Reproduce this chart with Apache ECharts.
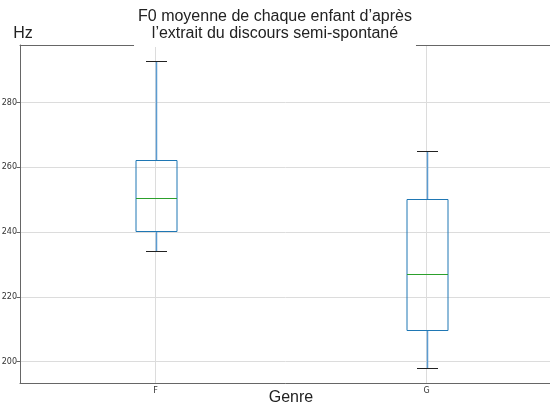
<!DOCTYPE html>
<html>
<head>
<meta charset="utf-8">
<script src="https://cdn.jsdelivr.net/npm/echarts@6/dist/echarts.min.js"></script>
<style>
  html, body { margin: 0; padding: 0; background: #fff; }
  #chart { width: 550px; height: 409px; }
</style>
</head>
<body>
<div id="chart"></div>
<script>
// Mean F0 per child, grouped by gender (five-number summaries)
const genres = ['F', 'G'];
const whiskerLow = [234.3, 198.1];
const q1 = [240.4, 209.9];
const median = [250.6, 227.2];
const q3 = [262.3, 250.2];
const whiskerHigh = [292.8, 265.1];

const boxData = genres.map((g, i) => [i, whiskerLow[i], q1[i], median[i], q3[i], whiskerHigh[i]]);

const BOX = '#1f77b4';
const WHISKER = '#5b9bd0';
const MED = '#2ca02c';
const CAP = '#222222';
const GRID = '#dcdcdc';
const AXIS = '#666666';

// crisp 1px lines: snap to pixel centres
const snap = v => Math.round(v) + 0.5;

function renderBox(params, api) {
  const idx = api.value(0);
  const band = api.size([1, 0])[0];
  const bw = Math.round(band * 0.15);
  const cw = Math.round(bw / 2);
  const yLo = snap(api.coord([idx, api.value(1)])[1]);
  const yQ1 = snap(api.coord([idx, api.value(2)])[1]);
  const pMed = api.coord([idx, api.value(3)]);
  const yMed = snap(pMed[1]);
  const yQ3 = snap(api.coord([idx, api.value(4)])[1]);
  const yHi = snap(api.coord([idx, api.value(5)])[1]);
  const x = snap(pMed[0]);
  const line = (x1, y1, x2, y2, color, w) => ({
    type: 'line',
    shape: { x1, y1, x2, y2 },
    style: { stroke: color, lineWidth: w || 1 }
  });
  return {
    type: 'group',
    children: [
      line(x, yQ3, x, yHi, WHISKER, 1.5),
      line(x, yLo, x, yQ1, WHISKER, 1.5),
      line(x - cw / 2, yHi, x + cw / 2, yHi, CAP),
      line(x - cw / 2, yLo, x + cw / 2, yLo, CAP),
      {
        type: 'rect',
        shape: { x: x - bw / 2, y: yQ3, width: bw, height: yQ1 - yQ3 },
        style: { fill: 'none', stroke: BOX, lineWidth: 1 }
      },
      line(x - bw / 2, yMed, x + bw / 2, yMed, MED)
    ]
  };
}

const chart = echarts.init(document.getElementById('chart'), null, { renderer: 'canvas' });
chart.setOption({
  animation: false,
  backgroundColor: '#fff',
  title: {
    text: 'F0 moyenne de chaque enfant d\u2019après\nl\u2019extrait du discours semi-spontané',
    left: 'center',
    top: 5,
    padding: [3, 4, 5, 4],
    backgroundColor: '#fff',
    textStyle: {
      fontFamily: 'Liberation Sans',
      fontSize: 16,
      fontWeight: 'normal',
      color: '#222',
      lineHeight: 17
    }
  },
  grid: { left: 20, top: 45, width: 542, height: 338, outerBoundsMode: 'none', containLabel: false },
  xAxis: [
    {
      type: 'category',
      data: genres,
      z: 2,
      name: 'Genre',
      nameLocation: 'middle',
      nameGap: 7,
      nameMoveOverlap: false,
      nameTextStyle: { fontFamily: 'Liberation Sans', fontSize: 16, color: '#222' },
      axisLine: { lineStyle: { color: AXIS, width: 1 } },
      axisTick: { alignWithLabel: true, length: 3.5, lineStyle: { color: AXIS } },
      axisLabel: { fontFamily: 'DejaVu Sans', fontSize: 8, color: '#333', margin: 4 },
      splitLine: { show: true, alignWithLabel: true, lineStyle: { color: GRID, width: 1 } }
    },
    {
      type: 'category',
      data: genres,
      position: 'top',
      z: 2,
      axisLine: { lineStyle: { color: AXIS, width: 1 } },
      axisTick: { show: false },
      axisLabel: { show: false },
      splitLine: { show: false }
    }
  ],
  yAxis: {
    type: 'value',
    min: 193.4,
    max: 297.8,
    splitNumber: 5,
    name: 'Hz',
    nameLocation: 'end',
    nameGap: 3,
    nameTextStyle: { fontFamily: 'Liberation Sans', fontSize: 16, color: '#222', padding: [0, 0, 0, 6] },
    axisLine: { show: true, lineStyle: { color: AXIS, width: 1 } },
    axisTick: { show: true, length: 3.5, lineStyle: { color: AXIS } },
    axisLabel: {
      fontFamily: 'DejaVu Sans', fontSize: 8, color: '#333', margin: 3,
      showMinLabel: false, showMaxLabel: false
    },
    splitLine: { show: true, lineStyle: { color: GRID, width: 1 } }
  },
  series: [{
    type: 'custom',
    renderItem: renderBox,
    encode: { x: 0, y: [1, 2, 3, 4, 5] },
    data: boxData,
    z: 3
  }]
});
</script>
</body>
</html>
